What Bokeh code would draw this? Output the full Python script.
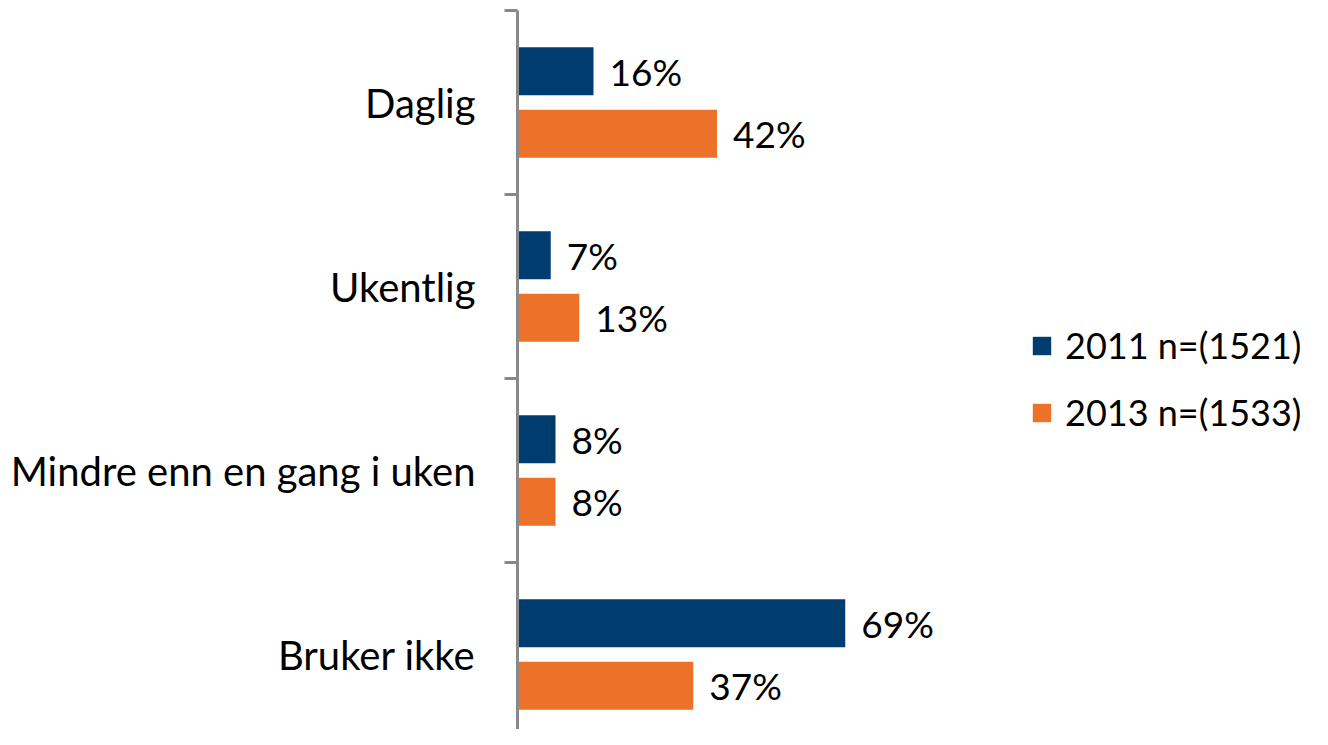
from bokeh.plotting import figure
from bokeh.models import ColumnDataSource, FixedTicker, Range1d, Legend, LegendItem
from bokeh.core.properties import value
from bokeh.embed import file_html
from bokeh.resources import INLINE

categories = ["Daglig", "Ukentlig", "Mindre enn en gang i uken", "Bruker ikke"]
v2011 = [16, 7, 8, 69]
v2013 = [42, 13, 8, 37]
series_labels = ["2011 n=(1521)", "2013 n=(1533)"]
colors = ["#003C6E", "#EC7129"]

FONT = "Lato"
n = len(categories)
centers = [n - i - 0.5 for i in range(n)]
dodge = 0.17
bar_h = 0.26

src1 = ColumnDataSource(dict(y=[c + dodge for c in centers], v=v2011, t=[f"{v}%" for v in v2011]))
src2 = ColumnDataSource(dict(y=[c - dodge for c in centers], v=v2013, t=[f"{v}%" for v in v2013]))

W, H = 1312, 729
left, top = 517, 10
px_per = 4.75
fw = W - left
fh = H - top
p = figure(width=W, height=H, output_backend="svg", toolbar_location=None,
           x_range=Range1d(0, fw / px_per), y_range=Range1d(n - fh / 184.0, n),
           x_axis_location=None, min_border_left=left, min_border_right=0,
           min_border_top=top, min_border_bottom=0)
p.outline_line_color = None
p.grid.visible = False
p.background_fill_color = "white"
p.border_fill_color = "white"

r1 = p.hbar(y="y", right="v", left=0, height=bar_h, source=src1, color=colors[0], line_color=None)
r2 = p.hbar(y="y", right="v", left=0, height=bar_h, source=src2, color=colors[1], line_color=None)

for s in (src1, src2):
    p.text(x="v", y="y", text="t", source=s, x_offset=16, text_baseline="middle",
           text_align="left", text_font=value(FONT), text_font_size="37px", text_color="black")

ax = p.yaxis[0]
ax.ticker = FixedTicker(ticks=centers, minor_ticks=list(range(0, n + 1)))
ax.major_label_overrides = {c: cat for c, cat in zip(centers, categories)}
ax.axis_line_color = "#898989"
ax.axis_line_width = 3
ax.major_tick_line_color = None
ax.major_tick_out = 0
ax.major_tick_in = 0
ax.minor_tick_line_color = "#898989"
ax.minor_tick_line_width = 3
ax.minor_tick_out = 13
ax.minor_tick_in = 0
ax.major_label_standoff = 29
ax.major_label_text_font = FONT
ax.major_label_text_font_size = "40px"
ax.major_label_text_color = "black"

legend = Legend(items=[LegendItem(label=series_labels[0], renderers=[r1]),
                       LegendItem(label=series_labels[1], renderers=[r2])],
                location=(513, 295), padding=0, margin=0, spacing=23,
                glyph_width=23, glyph_height=23, label_standoff=12,
                label_text_font=FONT, label_text_font_size="36px",
                label_text_color="black",
                border_line_color=None, background_fill_alpha=0)
p.add_layout(legend)

open("out.html", "w").write(file_html(p, INLINE))
